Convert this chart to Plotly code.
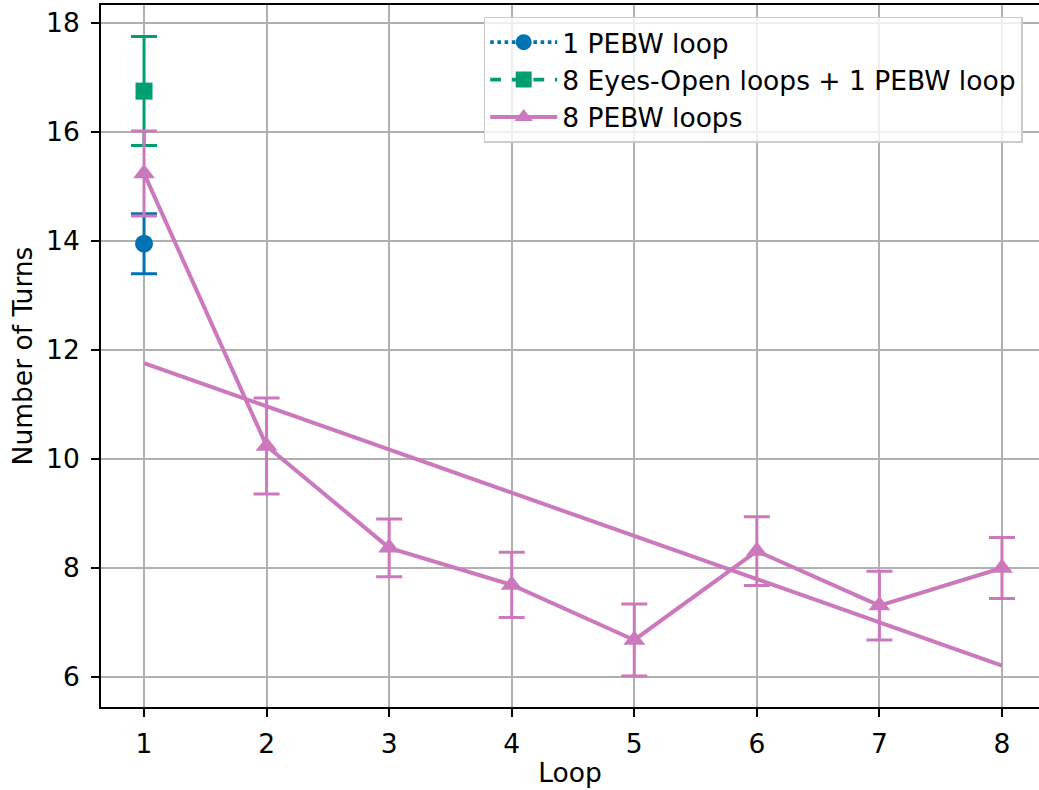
import plotly.graph_objects as go

loops = [1, 2, 3, 4, 5, 6, 7, 8]

pebw1_x = [1]
pebw1_mean = [13.95]
pebw1_err = [0.55]

eyes_x = [1]
eyes_mean = [16.75]
eyes_err = [1.0]

pebw8_mean = [15.24, 10.24, 8.37, 7.69, 6.68, 8.31, 7.31, 8.0]
pebw8_err = [0.78, 0.88, 0.53, 0.60, 0.66, 0.63, 0.63, 0.56]

trend_x = [1, 8]
trend_y = [11.76, 6.21]

BLUE = "#0173B2"
GREEN = "#029E73"
PINK = "#CC78BC"
FONT = "DejaVu Sans"
FS = 26.5

fig = go.Figure()

fig.add_trace(go.Scatter(
    x=pebw1_x, y=pebw1_mean, name="1 PEBW loop", mode="lines+markers",
    line=dict(color=BLUE, width=3.6, dash="dot"),
    marker=dict(symbol="circle", size=18, color=BLUE),
    error_y=dict(type="data", array=pebw1_err, color=BLUE, thickness=3, width=13),
))
fig.add_trace(go.Scatter(
    x=eyes_x, y=eyes_mean, name="8 Eyes-Open loops + 1 PEBW loop", mode="lines+markers",
    line=dict(color=GREEN, width=3.6, dash="dash"),
    marker=dict(symbol="square", size=17, color=GREEN),
    error_y=dict(type="data", array=eyes_err, color=GREEN, thickness=3, width=13),
))
fig.add_trace(go.Scatter(
    x=loops, y=pebw8_mean, name="8 PEBW loops", mode="lines+markers",
    line=dict(color=PINK, width=4),
    marker=dict(symbol="triangle-up", size=19, color=PINK),
    error_y=dict(type="data", array=pebw8_err, color=PINK, thickness=3, width=13),
))
fig.add_trace(go.Scatter(
    x=trend_x, y=trend_y, mode="lines", showlegend=False,
    line=dict(color=PINK, width=4),
))

axis_common = dict(
    showgrid=True, gridcolor="#b0b0b0", gridwidth=1.8,
    showline=True, linecolor="black", linewidth=1.8,
    ticks="outside", ticklen=8, tickwidth=1.8, tickcolor="black",
    zeroline=False,
    tickfont=dict(family=FONT, size=FS, color="black"),
    title_font=dict(family=FONT, size=FS, color="black"),
)

fig.update_xaxes(
    **axis_common, range=[0.649, 8.302], tickvals=loops, mirror=True,
    title_text="Loop", title_standoff=6, ticklabelstandoff=4,
)
fig.update_yaxes(
    **axis_common, range=[5.45, 18.33], tickvals=[6, 8, 10, 12, 14, 16, 18],
    title_text="Number of Turns", title_standoff=6, ticklabelstandoff=6,
)

fig.update_layout(
    width=1039, height=790,
    margin=dict(l=101, r=0, t=5, b=83, autoexpand=False),
    plot_bgcolor="white", paper_bgcolor="white",
    font=dict(family=FONT, size=FS, color="black"),
    legend=dict(
        x=0.408, y=0.983, xanchor="left", yanchor="top",
        bgcolor="rgba(255,255,255,0.8)", bordercolor="#cccccc", borderwidth=1.5,
        font=dict(family=FONT, size=FS, color="black"),
        itemwidth=67,
    ),
)

fig.write_html(
    "out.html",
    config={"displayModeBar": False},
    post_script="document.body.style.margin='0';",
)
